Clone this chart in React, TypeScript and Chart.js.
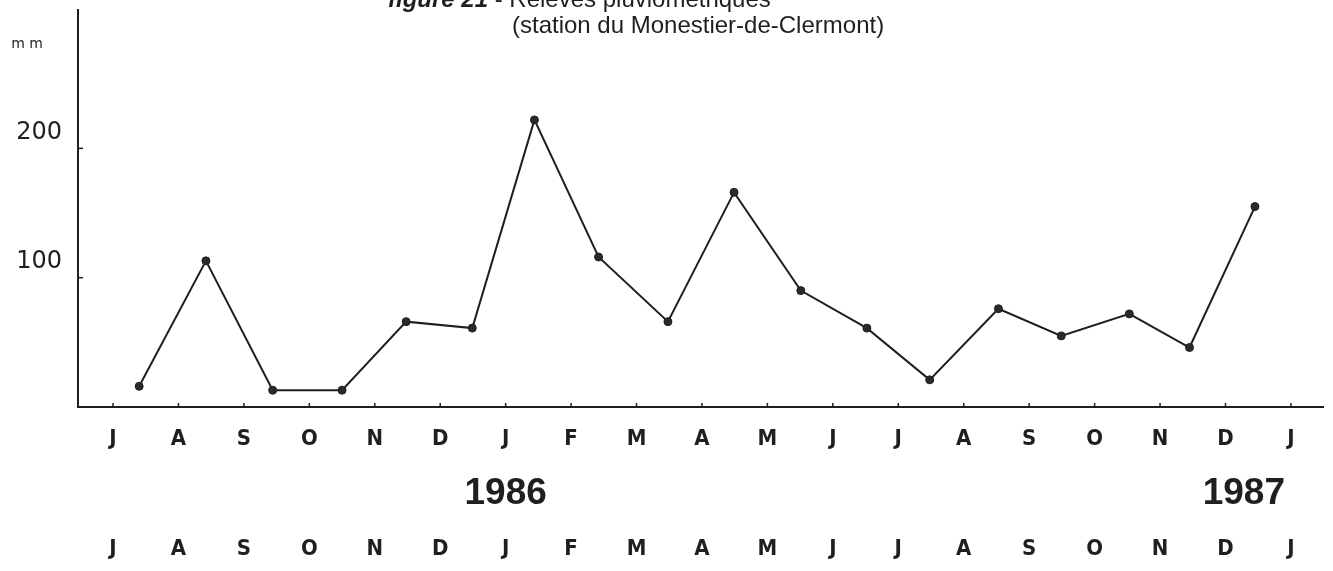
import React, { useEffect, useRef } from "react";
import { Chart, registerables } from "chart.js";

Chart.register(...registerables);

// ---- data ----
const monthLabels = ["J", "A", "S", "O", "N", "D", "J", "F", "M", "A", "M", "J", "J", "A", "S", "O", "N", "D", "J"];
// position of each reading, in months from the start of July 1986
const readingMonth = [0.4, 1.42, 2.44, 3.5, 4.48, 5.49, 6.44, 7.42, 8.48, 9.49, 10.51, 11.52, 12.48, 13.53, 14.49, 15.53, 16.45, 17.45];
// monthly rainfall (mm)
const rainfallMm = [16, 113, 13, 13, 66, 61, 222, 116, 66, 166, 90, 61, 21, 76, 55, 72, 46, 155];
const yTickValues = [100, 200];
const yearLabels = ["1986", "1987"];
const yearPositions = [6, 17.28];
const titleItalic = "figure 21";
const titleRest = " - Relevés pluviométriques";
const titleLine2 = "(station du Monestier-de-Clermont)";
const unitLabel = "m m";

const INK = "#1f1f1f";
const MONTH_FONT = "'Liberation Sans Narrow', 'DejaVu Sans Condensed', 'Liberation Sans', sans-serif";

const decorPlugin = {
  id: "decor",
  afterDraw(chart: any) {
    const { ctx, chartArea, scales } = chart;
    const x = scales.x;
    const y = scales.y;
    ctx.save();
    ctx.strokeStyle = INK;
    ctx.fillStyle = INK;
    ctx.lineWidth = 1.5;
    // inner tick marks on x axis
    monthLabels.forEach((_, i) => {
      const px = x.getPixelForValue(i);
      ctx.beginPath();
      ctx.moveTo(px, chartArea.bottom);
      ctx.lineTo(px, chartArea.bottom - 4);
      ctx.stroke();
    });
    // inner tick marks on y axis
    yTickValues.forEach((v) => {
      const py = y.getPixelForValue(v);
      ctx.beginPath();
      ctx.moveTo(chartArea.left, py);
      ctx.lineTo(chartArea.left + 5, py);
      ctx.stroke();
    });
    // second row of month labels
    ctx.font = `bold 22px ${MONTH_FONT}`;
    ctx.textAlign = "center";
    ctx.textBaseline = "middle";
    monthLabels.forEach((m, i) => {
      ctx.fillText(m, x.getPixelForValue(i), 549);
    });
    // years
    ctx.font = "bold 37px 'Liberation Sans', Arial, sans-serif";
    yearLabels.forEach((t, i) => {
      ctx.fillText(t, x.getPixelForValue(yearPositions[i]), 494);
    });
    // unit
    ctx.font = "14px 'DejaVu Sans', sans-serif";
    ctx.fillText(unitLabel, 27, 44);
    // title
    ctx.textAlign = "left";
    ctx.textBaseline = "alphabetic";
    ctx.font = "italic bold 24px 'Liberation Sans', Arial, sans-serif";
    ctx.fillText(titleItalic, 388, 7);
    const w = ctx.measureText(titleItalic).width;
    ctx.font = "24px 'Liberation Sans', Arial, sans-serif";
    ctx.fillText(titleRest, 388 + w, 7);
    ctx.fillText(titleLine2, 512, 33);
    ctx.restore();
  },
};

export default function App() {
  const canvasRef = useRef<HTMLCanvasElement | null>(null);

  useEffect(() => {
    const canvas = canvasRef.current;
    if (!canvas) return;
    const chart = new Chart(canvas, {
      type: "line",
      data: {
        datasets: [
          {
            data: rainfallMm.map((v, i) => ({ x: readingMonth[i], y: v })),
            borderColor: INK,
            borderWidth: 2,
            backgroundColor: "#2a2a2a",
            pointRadius: 4,
            pointBorderColor: INK,
            pointBorderWidth: 1,
            tension: 0,
            fill: false,
          },
        ],
      },
      options: {
        animation: false,
        responsive: false,
        layout: { padding: { top: 10, right: 10, left: 0, bottom: 0 } },
        plugins: {
          legend: { display: false },
          tooltip: { enabled: false },
          title: { display: false },
        },
        scales: {
          x: {
            type: "linear",
            min: -0.535,
            max: 18.49,
            afterBuildTicks: (s: any) => {
              s.ticks = monthLabels.map((_, i) => ({ value: i }));
            },
            afterFit: (s: any) => {
              s.height = 164;
              s.paddingLeft = 0;
              s.paddingRight = 0;
            },
            grid: { display: false, drawTicks: false },
            border: { display: true, color: INK, width: 2 },
            ticks: {
              autoSkip: false,
              maxRotation: 0,
              minRotation: 0,
              padding: 19,
              color: INK,
              font: { family: MONTH_FONT, size: 22, weight: "bold" },
              callback: (_v: any, i: number) => monthLabels[i],
            },
          },
          y: {
            type: "linear",
            min: 0,
            max: 307,
            afterBuildTicks: (s: any) => {
              s.ticks = yTickValues.map((v) => ({ value: v }));
            },
            afterFit: (s: any) => {
              s.width = 78;
              s.paddingTop = 0;
              s.paddingBottom = 0;
            },
            grid: { display: false, drawTicks: false },
            border: { display: true, color: INK, width: 2 },
            ticks: {
              padding: 16,
              labelOffset: -16,
              color: INK,
              font: { family: "'DejaVu Sans', sans-serif", size: 24, weight: "normal" },
              callback: (v: any) => String(v),
            },
          },
        },
      },
      plugins: [decorPlugin],
    });
    return () => chart.destroy();
  }, []);

  return (
    <div style={{ position: "absolute", left: 0, top: 0, width: 1333, height: 571, background: "#fff" }}>
      <canvas ref={canvasRef} width={1333} height={571} style={{ display: "block" }} />
    </div>
  );
}
